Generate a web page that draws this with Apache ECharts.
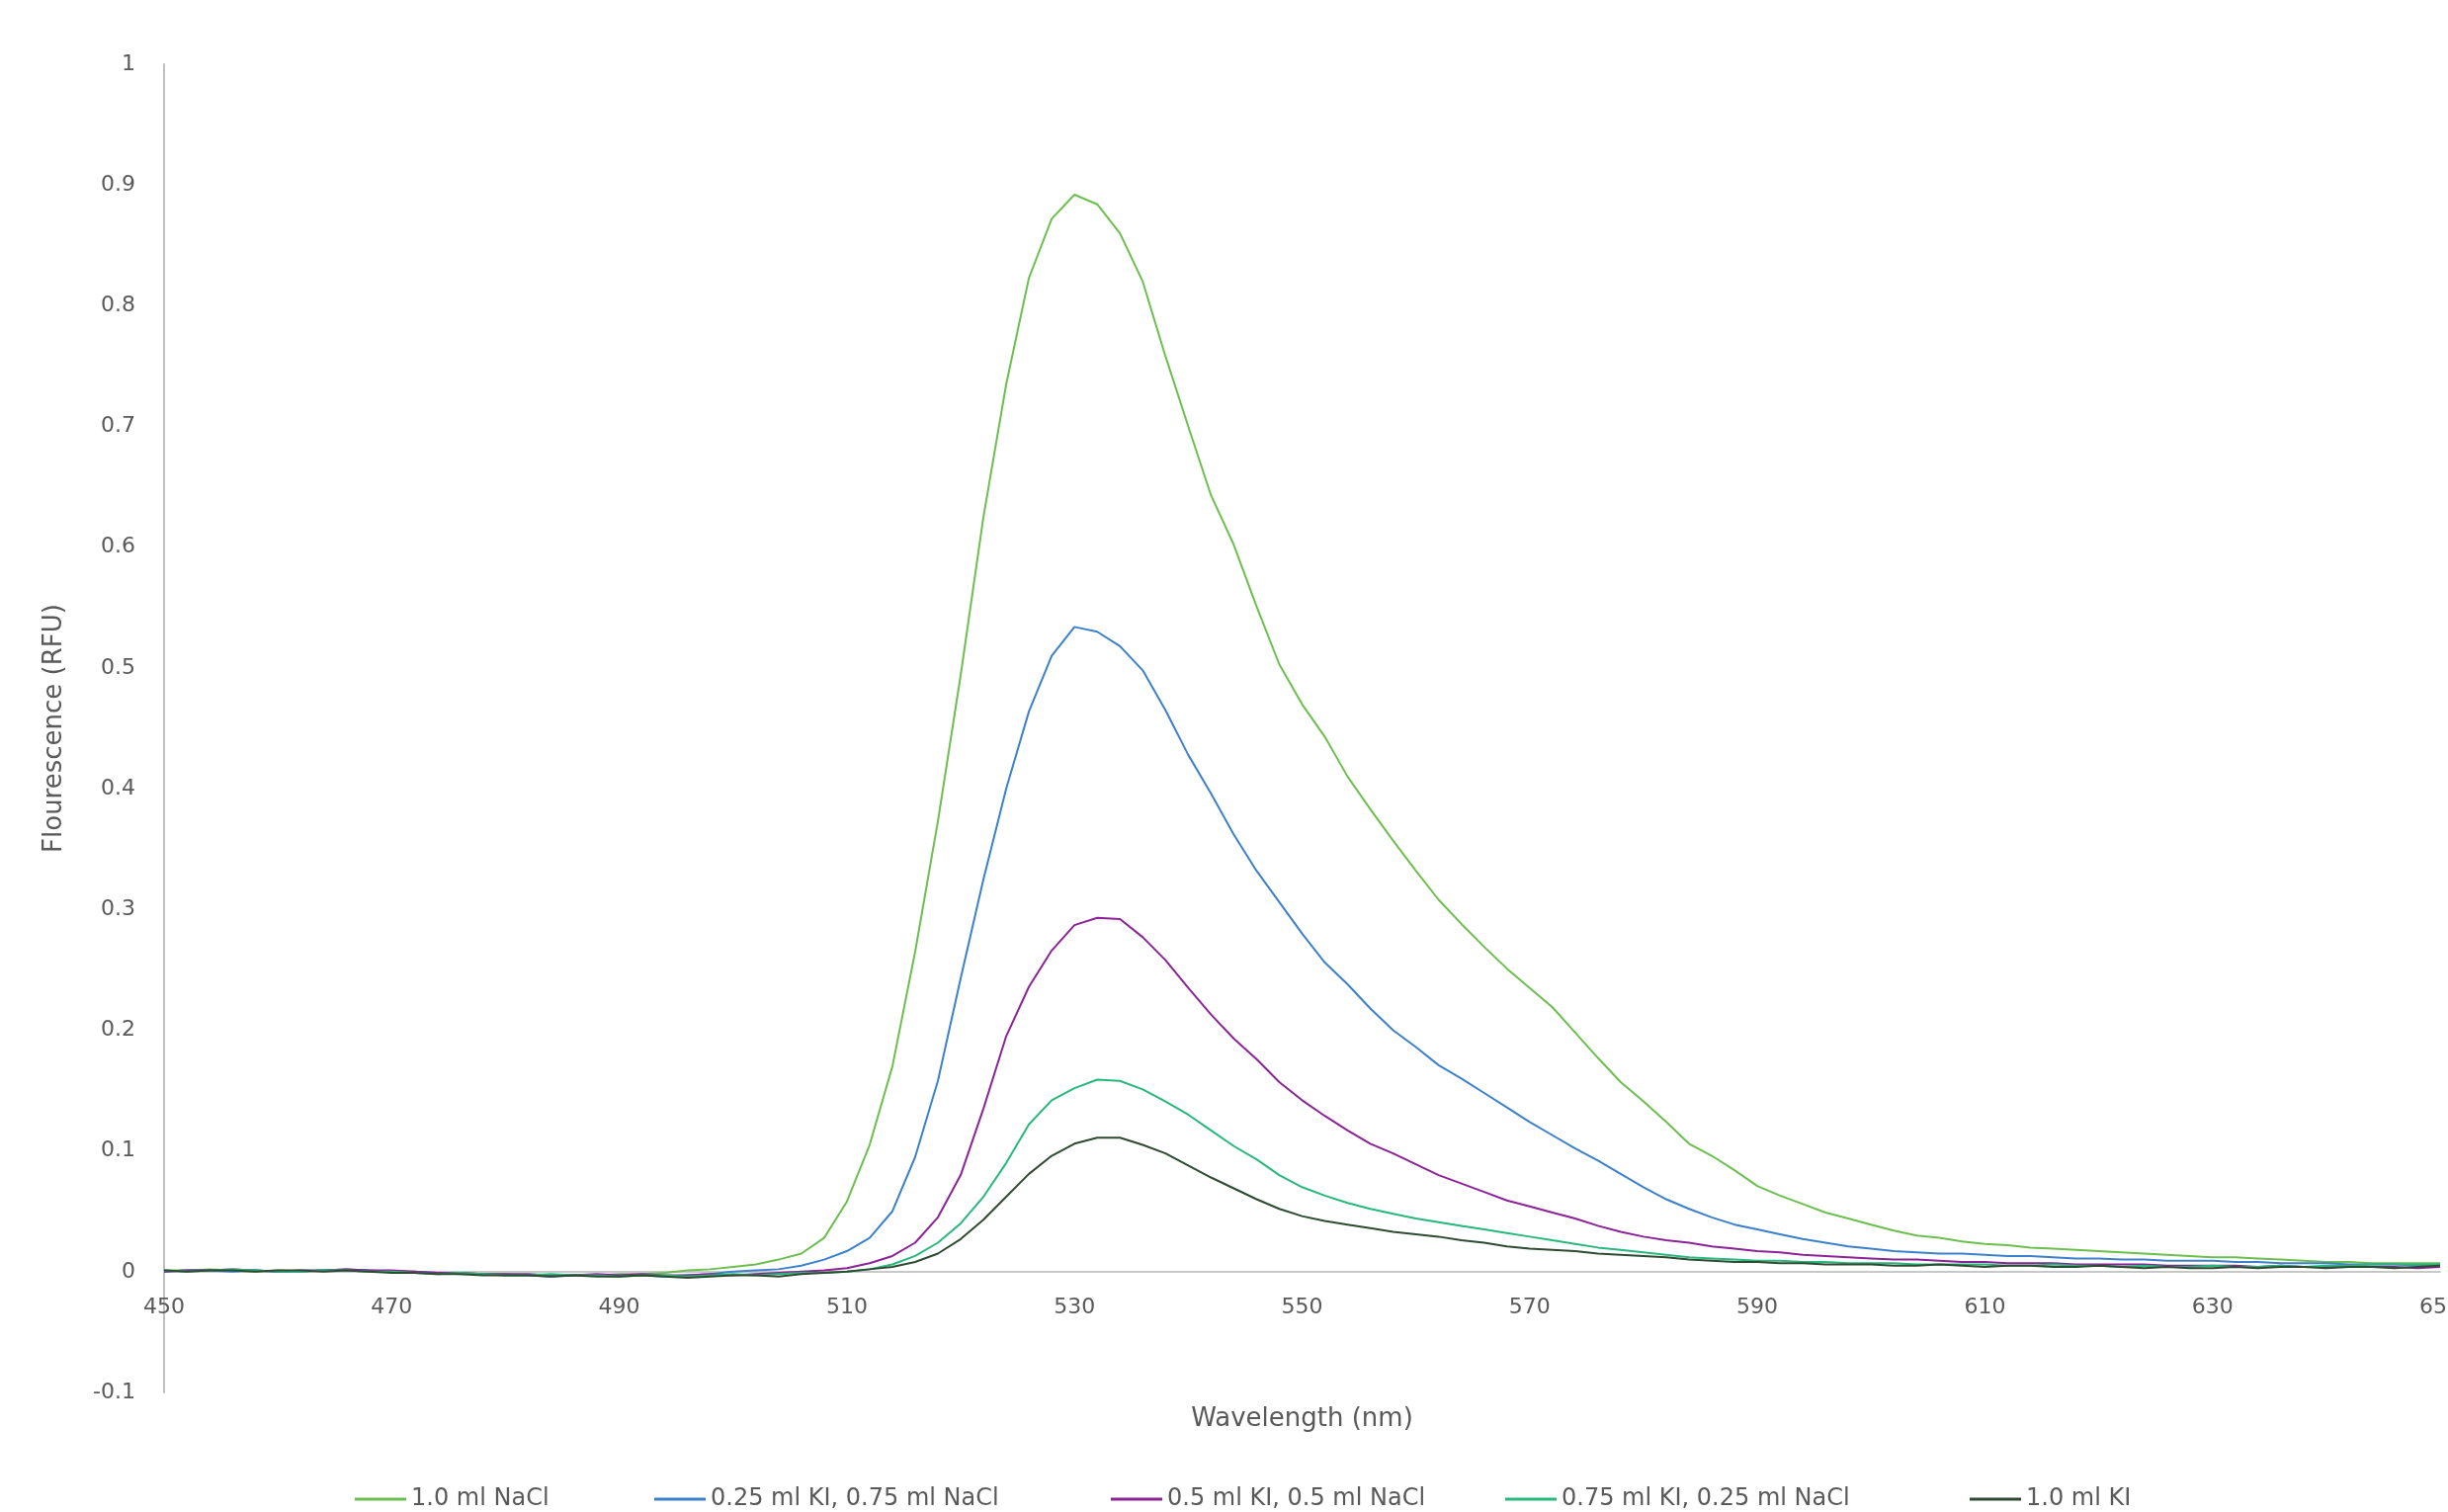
<!DOCTYPE html>
<html>
<head>
<meta charset="utf-8">
<style>
html,body{margin:0;padding:0;background:#ffffff;}
#chart{width:2477px;height:1530px;}
</style>
<script src="https://cdn.jsdelivr.net/npm/echarts@6/dist/echarts.min.js"></script>
</head>
<body>
<div id="chart"></div>
<script>
// ---- data ----
const wavelengths = [
  450,452,454,456,458,460,462,464,466,468,
  470,472,474,476,478,480,482,484,486,488,
  490,492,494,496,498,500,502,504,506,508,
  510,512,514,516,518,520,522,524,526,528,
  530,532,534,536,538,540,542,544,546,548,
  550,552,554,556,558,560,562,564,566,568,
  570,572,574,576,578,580,582,584,586,588,
  590,592,594,596,598,600,602,604,606,608,
  610,612,614,616,618,620,622,624,626,628,
  630,632,634,636,638,640,642,644,646,648,
  650
];

const seriesNames = [
  '1.0 ml NaCl',
  '0.25 ml KI, 0.75 ml NaCl',
  '0.5 ml KI, 0.5 ml NaCl',
  '0.75 ml KI, 0.25 ml NaCl',
  '1.0 ml KI'
];

const nacl100 = [
  0.001,0.001,0.002,0.001,0.000,0.001,0.000,0.001,0.001,0.000,
  0.000,-0.001,-0.001,-0.001,-0.002,-0.002,-0.003,-0.003,-0.003,-0.003,
  -0.002,-0.002,-0.001,0.001,0.002,0.004,0.006,0.010,0.015,0.028,
  0.058,0.105,0.170,0.265,0.373,0.494,0.625,0.735,0.823,0.872,
  0.892,0.884,0.860,0.820,0.758,0.700,0.643,0.602,0.551,0.503,
  0.470,0.443,0.410,0.383,0.357,0.332,0.308,0.288,0.269,0.251,
  0.235,0.219,0.198,0.177,0.157,0.141,0.124,0.106,0.096,0.084,
  0.071,0.063,0.056,0.049,0.044,0.039,0.034,0.030,0.028,0.025,
  0.023,0.022,0.020,0.019,0.018,0.017,0.016,0.015,0.014,0.013,
  0.012,0.012,0.011,0.010,0.009,0.008,0.008,0.007,0.007,0.007,
  0.007
];

const ki25 = [
  0.000,0.001,0.001,0.000,0.001,0.000,0.000,0.001,0.002,0.001,
  0.000,0.000,-0.001,-0.002,-0.002,-0.003,-0.003,-0.004,-0.003,-0.003,
  -0.003,-0.003,-0.004,-0.003,-0.002,0.000,0.001,0.002,0.005,0.010,
  0.017,0.028,0.050,0.095,0.158,0.243,0.325,0.400,0.464,0.510,
  0.534,0.530,0.518,0.498,0.465,0.428,0.396,0.362,0.332,0.306,
  0.280,0.256,0.238,0.218,0.200,0.186,0.171,0.160,0.148,0.136,
  0.124,0.113,0.102,0.092,0.081,0.070,0.060,0.052,0.045,0.039,
  0.035,0.031,0.027,0.024,0.021,0.019,0.017,0.016,0.015,0.015,
  0.014,0.013,0.013,0.012,0.011,0.011,0.010,0.010,0.009,0.009,
  0.009,0.008,0.008,0.007,0.007,0.007,0.006,0.006,0.006,0.005,
  0.006
];

const ki50 = [
  0.000,0.001,0.001,0.002,0.001,0.000,0.001,0.001,0.002,0.001,
  0.001,0.000,-0.001,-0.001,-0.002,-0.002,-0.002,-0.003,-0.003,-0.002,
  -0.003,-0.002,-0.003,-0.003,-0.002,-0.003,-0.002,-0.001,0.000,0.001,
  0.003,0.007,0.013,0.024,0.045,0.080,0.135,0.195,0.236,0.266,
  0.287,0.293,0.292,0.277,0.258,0.235,0.213,0.193,0.176,0.157,
  0.142,0.129,0.117,0.106,0.098,0.089,0.080,0.073,0.066,0.059,
  0.054,0.049,0.044,0.038,0.033,0.029,0.026,0.024,0.021,0.019,
  0.017,0.016,0.014,0.013,0.012,0.011,0.010,0.010,0.009,0.008,
  0.008,0.007,0.007,0.007,0.006,0.006,0.006,0.006,0.005,0.005,
  0.005,0.005,0.004,0.005,0.004,0.004,0.005,0.004,0.004,0.003,
  0.004
];

const ki75 = [
  0.001,0.000,0.001,0.002,0.001,0.000,0.000,0.001,0.001,0.000,
  0.000,-0.001,-0.002,-0.001,-0.002,-0.003,-0.003,-0.002,-0.003,-0.003,
  -0.004,-0.003,-0.003,-0.004,-0.003,-0.002,-0.003,-0.002,-0.001,-0.001,
  0.000,0.002,0.006,0.013,0.024,0.040,0.062,0.090,0.122,0.142,
  0.152,0.159,0.158,0.151,0.141,0.130,0.117,0.104,0.093,0.080,
  0.070,0.063,0.057,0.052,0.048,0.044,0.041,0.038,0.035,0.032,
  0.029,0.026,0.023,0.020,0.018,0.016,0.014,0.012,0.011,0.010,
  0.009,0.009,0.008,0.008,0.007,0.007,0.007,0.006,0.006,0.006,
  0.006,0.005,0.005,0.006,0.005,0.005,0.004,0.005,0.004,0.004,
  0.005,0.004,0.004,0.005,0.004,0.005,0.005,0.006,0.006,0.006,
  0.006
];

const ki100 = [
  0.001,0.000,0.001,0.001,0.000,0.001,0.001,0.000,0.001,0.000,
  -0.001,-0.001,-0.002,-0.002,-0.003,-0.003,-0.003,-0.004,-0.003,-0.004,
  -0.004,-0.003,-0.004,-0.005,-0.004,-0.003,-0.003,-0.004,-0.002,-0.001,
  0.000,0.002,0.004,0.008,0.015,0.027,0.043,0.062,0.081,0.096,
  0.106,0.111,0.111,0.105,0.098,0.088,0.078,0.069,0.060,0.052,
  0.046,0.042,0.039,0.036,0.033,0.031,0.029,0.026,0.024,0.021,
  0.019,0.018,0.017,0.015,0.014,0.013,0.012,0.010,0.009,0.008,
  0.008,0.007,0.007,0.006,0.006,0.006,0.005,0.005,0.006,0.005,
  0.004,0.005,0.005,0.004,0.004,0.005,0.004,0.003,0.004,0.003,
  0.003,0.004,0.003,0.004,0.004,0.003,0.004,0.004,0.003,0.004,
  0.005
];

const seriesValues = [nacl100, ki25, ki50, ki75, ki100];

// ---- styles ----
const colors = ['#6cbf4f', '#3c80cc', '#8b2396', '#28b77c', '#2e4b31'];
const legendLefts = [354, 657, 1119, 1518, 1988];
const FONT = 'DejaVu Sans';
const TEXT_COLOR = '#595959';

const chart = echarts.init(document.getElementById('chart'), null, {renderer: 'canvas'});

const series = seriesNames.map((name, i) => ({
  name: name,
  type: 'line',
  symbol: 'none',
  showSymbol: false,
  smooth: false,
  animation: false,
  lineStyle: {color: colors[i], width: 2},
  itemStyle: {color: colors[i]},
  data: wavelengths.map((w, j) => [w, seriesValues[i][j]])
}));

const legends = seriesNames.map((name, i) => ({
  data: [name],
  left: legendLefts[i],
  top: 1500,
  orient: 'horizontal',
  icon: 'rect',
  itemWidth: 52,
  itemHeight: 3,
  selectedMode: false,
  textStyle: {fontFamily: FONT, fontSize: 24, color: TEXT_COLOR}
}));

chart.setOption({
  backgroundColor: '#ffffff',
  animation: false,
  grid: {left: 166, right: 8, top: 65, bottom: 121, containLabel: false, outerBoundsMode: 'none'},
  legend: legends,
  xAxis: {
    type: 'value',
    min: 450,
    max: 650,
    interval: 20,
    name: 'Wavelength (nm)',
    nameLocation: 'middle',
    nameGap: 14,
    nameTextStyle: {fontFamily: FONT, fontSize: 26, color: TEXT_COLOR},
    axisLine: {show: true, onZero: true, lineStyle: {color: '#c8c8c8', width: 2}},
    axisTick: {show: false},
    splitLine: {show: false},
    axisLabel: {fontFamily: FONT, fontSize: 22, color: TEXT_COLOR, margin: -97, hideOverlap: false}
  },
  yAxis: {
    type: 'value',
    min: -0.1,
    max: 1,
    interval: 0.1,
    name: 'Flourescence (RFU)',
    nameLocation: 'middle',
    nameGap: 98,
    nameTextStyle: {fontFamily: FONT, fontSize: 26, color: TEXT_COLOR},
    axisLine: {show: true, onZero: false, lineStyle: {color: '#c0c0c0', width: 2}},
    axisTick: {show: false},
    splitLine: {show: false},
    axisLabel: {
      fontFamily: FONT, fontSize: 22, color: TEXT_COLOR, margin: 29,
      formatter: v => String(Math.round(v * 10) / 10)
    }
  },
  series: series
});
</script>
</body>
</html>
